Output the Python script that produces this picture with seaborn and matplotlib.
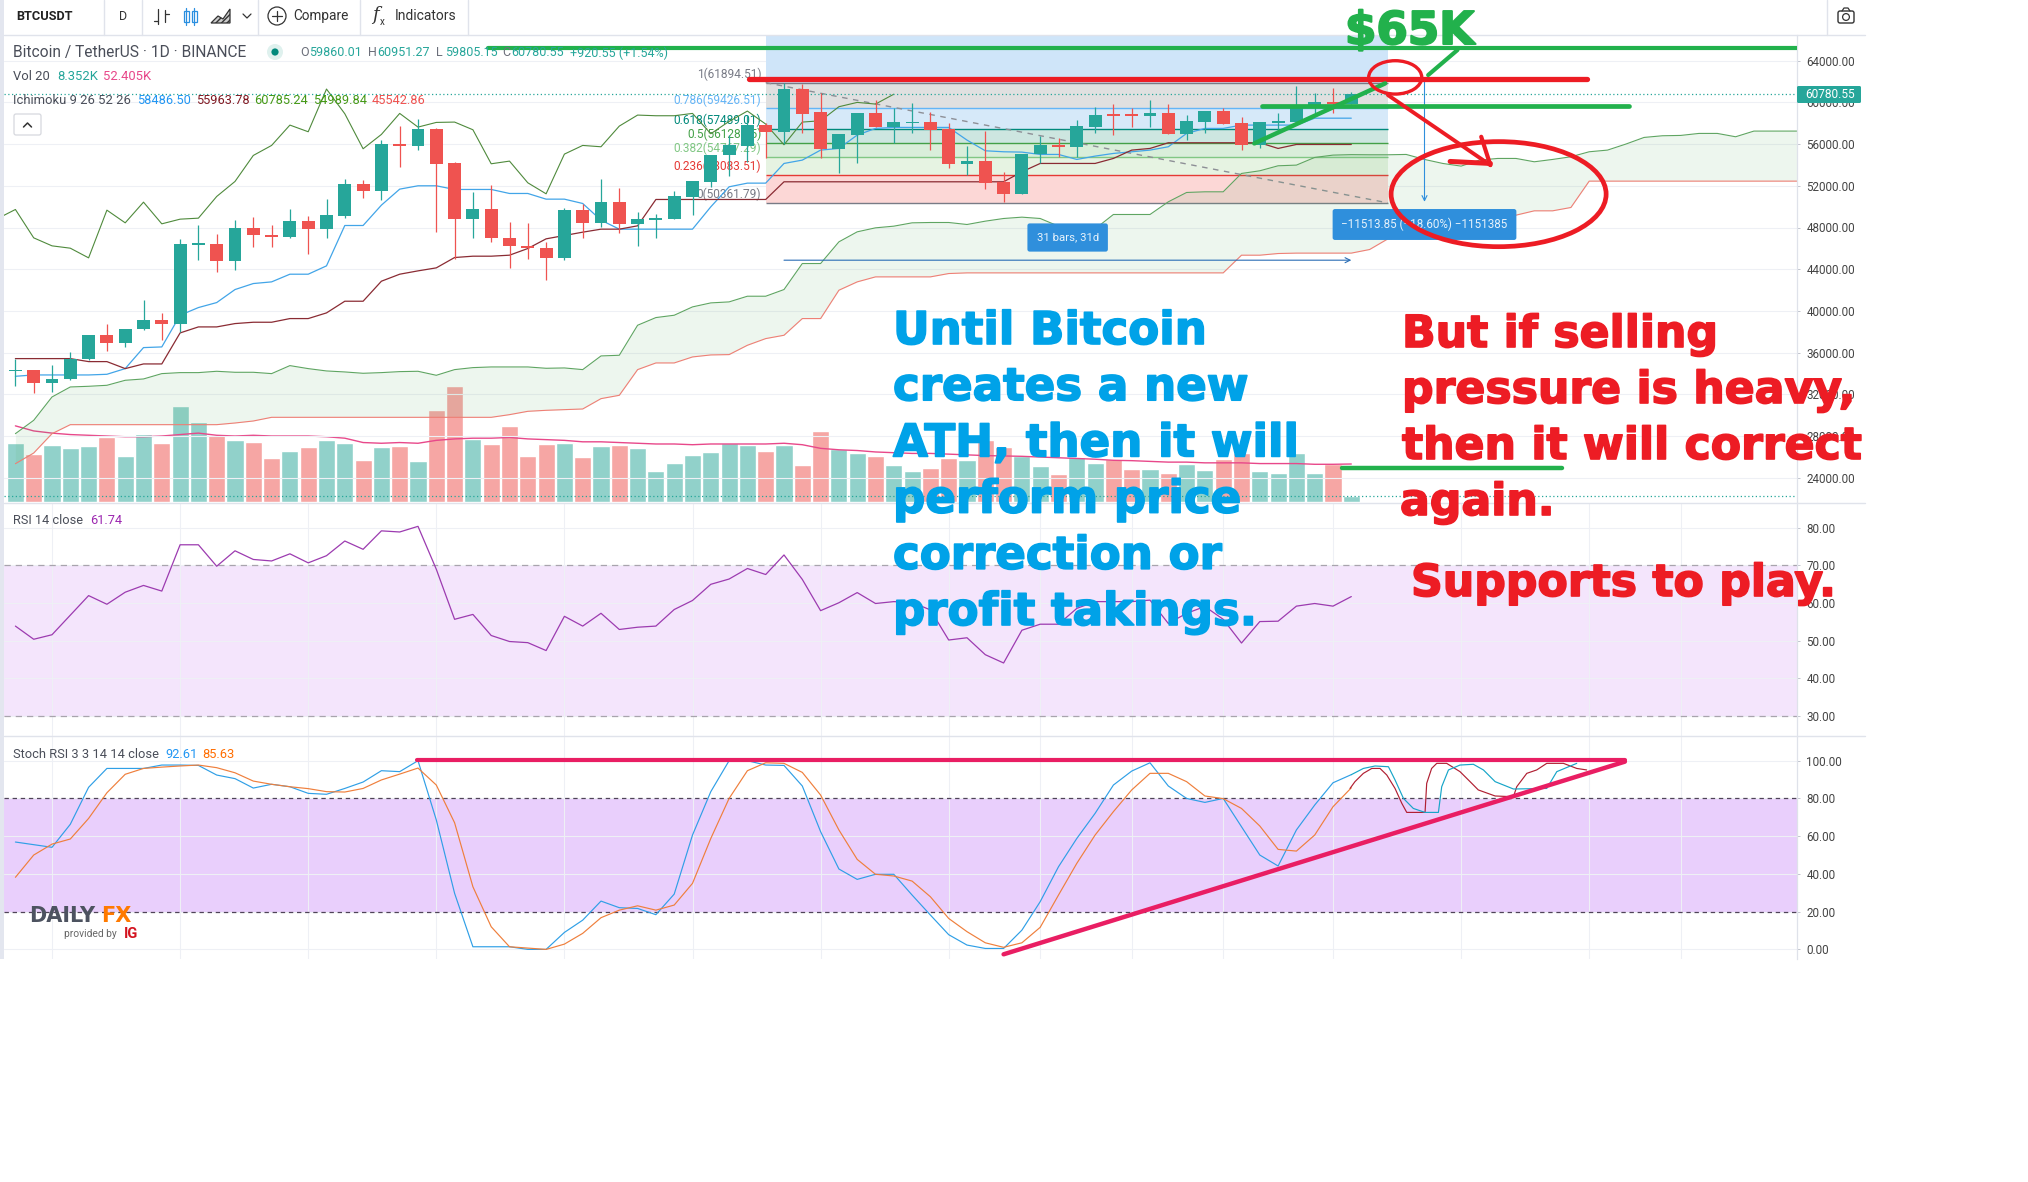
import numpy as np
import matplotlib
matplotlib.use('Agg')
import matplotlib.pyplot as plt
import matplotlib.patheffects as pe
from matplotlib.patches import Ellipse, Rectangle, FancyBboxPatch, Circle
import seaborn as sns

# ---------------- candles ----------------
opens = [34208, 34304, 33088, 33472, 35424, 37664, 36928, 38240, 39168, 38784, 46336, 46464, 44800, 48000, 47328,
         47072, 48576, 47872, 49088, 52160, 51520, 55968, 55840, 57408, 54144, 48832, 49728, 47040, 46272, 46080,
         45056, 49664, 48448, 50400, 48352, 48736, 48832, 50944, 52384, 54912, 55840, 57824, 57184, 61280, 59040,
         55552, 56864, 58944, 57632, 57984, 58080, 57472, 54112, 54336, 52352, 51232, 55008, 55936, 55744, 57664,
         58784, 58784, 58720, 58944, 56992, 58144, 59168, 58016, 55936, 57984, 58144, 59584, 60000, 59840]
closes = [34304, 33088, 33504, 35424, 37664, 36928, 38304, 39168, 38720, 46400, 46496, 44800, 48000, 47264, 47104,
          48576, 47872, 49152, 52160, 51520, 55984, 55840, 57408, 54112, 48832, 49728, 47008, 46240, 46016, 45088,
          49664, 48448, 50432, 48352, 48800, 48896, 50976, 52416, 54912, 55872, 57824, 57184, 61280, 58912, 55552,
          56928, 58944, 57632, 58080, 58112, 57376, 54112, 54368, 52288, 51232, 55040, 55872, 55744, 57728, 58784,
          58720, 58720, 58944, 56992, 58176, 59168, 57920, 55936, 58112, 58240, 59584, 60000, 59840, 60768]
highs = [35424, 34368, 34784, 36032, 37664, 38720, 38304, 41024, 39808, 46912, 48192, 47360, 48704, 48960, 48224,
         49728, 49088, 50720, 52640, 52544, 56384, 57728, 58432, 57504, 54272, 51424, 52064, 48544, 48448, 46624,
         49824, 50240, 52608, 51744, 49440, 49280, 51488, 52416, 54944, 56864, 58784, 57984, 61824, 61760, 60864,
         56928, 58944, 60224, 59424, 59904, 59104, 57984, 55840, 57248, 53312, 55040, 56800, 56544, 58304, 59520,
         59840, 59424, 60224, 59840, 58784, 59168, 59424, 58624, 58112, 59008, 61568, 60864, 61344, 60960]
lows = [32800, 32128, 32224, 33344, 35264, 36160, 36544, 38144, 37248, 37984, 44864, 43744, 43968, 46144, 46144,
        47040, 45504, 46976, 48896, 50816, 50624, 53824, 55424, 47584, 45024, 46976, 46624, 44128, 44960, 42944,
        44928, 47040, 48064, 47488, 46208, 47040, 48832, 49184, 51840, 52928, 54304, 54624, 56000, 57024, 54624,
        53248, 54144, 57632, 56064, 57024, 55424, 53664, 53024, 51712, 50432, 51232, 54144, 54720, 54720, 57024,
        56832, 57664, 57664, 56928, 56384, 57024, 57920, 55424, 55616, 57024, 57984, 58944, 58944, 59840]

# ---------------- ichimoku ----------------
conversion = [33728, 33856, 33856, 33856, 33856, 33920, 34464, 36480, 36544, 39584, 40320, 40800, 42048, 42624, 42784,
              43520, 43520, 44320, 48192, 48192, 50144, 51680, 52000, 52000, 51648, 51648, 51648, 51264, 51264, 50720,
              50720, 50304, 48704, 47840, 47840, 47840, 47840, 47840, 49984, 51904, 52256, 52256, 54144, 54464, 55424,
              55584, 56864, 57504, 57600, 57600, 57600, 57600, 56384, 55360, 55264, 55232, 55008, 55008, 54528, 54848,
              55104, 55264, 55424, 55744, 57024, 57504, 57504, 57824, 57824, 57824, 57824, 58486, 58486, 58486]
base_line = [35424, 35424, 35424, 35424, 35136, 35136, 34464, 34912, 34912, 37888, 38464, 38464, 38784, 38912, 38912,
             39264, 39264, 39808, 40928, 40928, 42848, 43520, 43840, 44128, 45120, 45248, 45248, 45344, 45984, 46912,
             47232, 47552, 47840, 47840, 48160, 50688, 50688, 50688, 50688, 50688, 50688, 50688, 52384, 52384, 52384,
             52384, 52384, 52384, 52384, 52384, 52384, 52384, 52384, 52384, 52384, 53344, 54144, 54144, 54144, 54144,
             54624, 55424, 55584, 56128, 56128, 56128, 56128, 56128, 56128, 55584, 55964, 55964, 55964, 55964]
# starts one bar left of the first candle
lagging = [48832, 49728, 47008, 46240, 46016, 45088, 49664, 48448, 50432, 48352, 48800, 48896, 50976, 52416, 54912,
           55872, 57824, 57184, 61280, 58912, 55552, 56928, 58944, 57632, 58080, 58112, 57376, 54112, 54368, 52288,
           51232, 55040, 55872, 55744, 57728, 58784, 58720, 58720, 58944, 56992, 58176, 59168, 57920, 55936, 58112,
           58240, 59584, 60000, 59840, 60785]
lead_a = [28224, 29504, 31744, 32704, 32768, 32864, 33344, 33472, 33984, 34080, 34080, 34208, 34112, 34112, 33984,
          34752, 34464, 34240, 34144, 34016, 34080, 34176, 34208, 33824, 34368, 34560, 34624, 34624, 34624, 34496,
          34528, 34368, 35680, 35744, 38624, 39360, 39584, 40384, 40768, 40864, 41408, 41408, 42048, 44544, 44544,
          46624, 47584, 47968, 48128, 48448, 48480, 48480, 48288, 48608, 48864, 48992, 48864, 48128, 47872, 47872,
          49248, 49248, 49248, 50464, 51360, 51424, 51424, 53184, 53440, 53920, 53984, 54720, 54944, 54990, 54976,
          54976, 55008, 54528, 54144, 53888, 54464, 54624, 54624, 54304, 54528, 54784, 55264, 55424, 56000, 56640,
          56800, 56832, 57024, 57024, 56704, 57248, 57248, 57248, 57248]
lead_b = [25344, 26368, 28224, 29088, 29088, 29088, 29088, 29088, 29088, 29088, 29088, 29088, 29248, 29440, 29792,
          29792, 29792, 29792, 29792, 29792, 29792, 29792, 29792, 29792, 29792, 29792, 29792, 30048, 30368, 30464,
          30528, 30592, 31584, 31904, 34368, 35008, 35008, 35584, 35776, 35808, 36704, 37344, 37664, 39264, 39264,
          41984, 42784, 43264, 43264, 43264, 43264, 43584, 43648, 43648, 43648, 43648, 43648, 43648, 43648, 43648,
          43648, 43648, 43648, 43648, 43648, 43648, 43648, 45344, 45344, 45504, 45543, 45543, 45543, 45543, 45888,
          46912, 47040, 47104, 47168, 47744, 48320, 48864, 49184, 49600, 49600, 49920, 52448, 52448, 52448, 52448,
          52448, 52448, 52448, 52448, 52448, 52448, 52448, 52448, 52448]

# ---------------- volume (thousands) ----------------
volumes = [81, 66, 79, 75, 77, 89, 64, 94, 81, 133, 110, 93, 86, 83, 61, 70, 76, 86, 81, 58, 76, 77, 57, 127, 160, 87,
           80, 105, 64, 80, 81, 62, 77, 79, 75, 43, 54, 65, 69, 81, 79, 70, 79, 51, 98, 73, 68, 64, 51, 43, 47, 61,
           58, 85, 76, 63, 49, 39, 62, 54, 59, 46, 46, 40, 53, 44, 59, 68, 43, 40, 67, 40, 52, 8.352]
volume_ma = [105, 98, 95, 93, 92, 91, 90, 90, 91, 93, 95, 92, 91, 92, 91, 91, 91, 90, 88, 82, 81, 82, 81, 85, 87, 88,
             88, 89, 87, 86, 85, 83, 83, 82, 81, 80, 80, 79, 80, 80, 80, 80, 81, 79, 74, 72, 71, 69, 68, 67, 67, 66,
             65, 64, 63.5, 63, 62, 61, 60, 59, 57.5, 57, 56, 55, 55, 54, 54, 54, 53, 53, 53, 52, 52, 52.4]

# ---------------- RSI / Stoch RSI ----------------
rsi = [53.9, 50.4, 51.6, 56.8, 62, 59.7, 62.9, 64.7, 63.2, 75.5, 75.5, 69.8, 73.9, 71.6, 71.2, 73.1, 70.7, 72.6, 76.5,
       74.3, 79.2, 78.9, 80.4, 69, 55.7, 57, 51.4, 49.8, 49.5, 47.4, 56.5, 53.9, 57.3, 53, 53.6, 53.9, 58.3, 60.7, 65,
       66.4, 69.2, 67.6, 72.8, 66.3, 58, 60.1, 62.8, 59.9, 60.4, 60.2, 58.2, 50.2, 50.8, 46.3, 44.1, 52.8, 54.4, 54.4,
       58.6, 60.4, 60.4, 60.4, 60.8, 54.6, 57.3, 59.1, 55.7, 49.4, 55.1, 55.2, 59.2, 59.9, 59.2, 61.74]
stoch_k = [56.9, 55.5, 54.1, 66.3, 85.9, 95.9, 95.9, 95.9, 97.7, 97.7, 97.5, 92.4, 90.5, 85.5, 87.5, 86.2, 82.7, 82.2,
           85.3, 88.7, 94.7, 94.2, 100, 68.6, 29.7, 1.4, 1.4, 1.4, 0, 0, 9, 15.5, 25.6, 22.1, 21.7, 18.4, 29.3, 60.6,
           83.6, 100, 100, 97.7, 97.5, 86.6, 62.4, 42.6, 37.1, 39.8, 39.8, 28.8, 18.2, 7.8, 2.3, 0.5, 0.5, 10.2, 25.3,
           43.8, 58.8, 72.1, 87.1, 94.5, 98.9, 86.6, 80, 77.9, 80, 65, 50, 44.2, 63.3, 76.5, 88.3, 92.61]
stoch_d = [38.2, 50, 55.8, 58.5, 69.4, 83, 92.8, 95.9, 96.6, 97.2, 97.7, 96.3, 93.6, 89.2, 87.5, 86.2, 85.2, 83.6, 83.4,
           85.3, 89.8, 92.9, 96.1, 87.1, 67.1, 33.2, 12, 1.4, 0.7, 0, 2.8, 8.5, 16.8, 20.8, 23.1, 20.8, 23.5, 35, 58.8,
           80, 94.7, 98.9, 98.6, 93.8, 81.8, 63.3, 47.7, 39.8, 38.9, 36.2, 27.9, 16.4, 9.4, 3.5, 1.1, 3.5, 11.7, 28.8,
           45.6, 60.6, 73, 84.5, 93.3, 93.3, 88.9, 81.3, 79.9, 74.7, 65.4, 53, 52.1, 60.6, 75.6, 85.63]

# ---------------- fib tool ----------------
fib_ratios = ['1', '0.786', '0.618', '0.5', '0.382', '0.236', '0']
fib_prices = [61894.51, 59426.51, 57489.01, 56128.15, 54767.29, 53083.51, 50361.79]
fib_lines = ['#787b86', '#64b5f6', '#00897b', '#43a047', '#81c784', '#e53935', '#787b86']
fib_fills = ['#e0e0e0', '#d6e9f9', '#cde6e0', '#d9eeda', '#e6f3e2', '#fcd7d6']
price_ticks = [64000, 60000, 56000, 52000, 48000, 44000, 40000, 36000, 32000, 28000, 24000]
rsi_ticks = [80, 70, 60, 50, 40, 30]
stoch_ticks = [100, 80, 60, 40, 20, 0]
time_grid = [2, 9, 16, 23, 30, 37, 44, 51, 56, 61, 66, 72, 79, 86, 91]

# ---------------- hand drawn lines ----------------
path_red_x = [72.93, 73.2, 73.66, 74.12, 74.57, 74.94, 75.39, 75.76, 76.03, 77.03, 77.12, 77.39, 77.67, 78.21, 78.94,
              79.49, 79.94, 80.86, 81.86, 82.04, 82.59, 83.13, 83.68, 84.59, 85.32, 85.86]
path_red_y = [85.3, 88.9, 93.3, 95.9, 95.9, 92.4, 85.3, 77.4, 72.6, 72.6, 88, 95.9, 98.6, 98.6, 94.2, 88.9, 84.5, 81.3,
              80.9, 86.2, 93.3, 95.1, 98.6, 98.6, 95.9, 95.1]
path_cyan_x = [73, 73.66, 74.3, 75.03, 75.39, 75.85, 76.39, 77.03, 77.76, 77.94, 78.31, 78.94, 79.67, 80.22, 80.86,
               81.86, 83.68, 84.23, 85.32]
path_cyan_y = [92.6, 95.9, 97.2, 96.8, 89.8, 80, 74.7, 72.6, 72.6, 86.2, 95.1, 97.7, 98.1, 95.1, 88.9, 85, 85.3, 94.2,
               98.6]

bar_idx = np.arange(len(closes))
GREEN, RED = '#26a69a', '#ef5350'
PAINT_GREEN, PAINT_RED, PAINT_BLUE, PINK = '#22b14c', '#ed1c24', '#00a2e8', '#e91e63'
W, H = 2028, 1182
BAR_X0, BAR_STEP = 15.4, 18.3


def price_at(y):
    return 64000 - (y - 60.7) / 0.010425


def make_pane(top, bottom, left=4, right=1797):
    return fig.add_axes([left / W, 1 - bottom / H, (right - left) / W, (bottom - top) / H])


def style_pane(pane, ticks, fmt='{:.2f}'):
    pane.set_xlim((4 - BAR_X0) / BAR_STEP, (1797 - BAR_X0) / BAR_STEP)
    pane.set_xticks(time_grid)
    pane.set_xticklabels([])
    pane.tick_params(axis='x', length=0)
    pane.yaxis.tick_right()
    pane.set_yticks(ticks)
    pane.set_yticklabels([fmt.format(t) for t in ticks], fontsize=8.4, color='#444444')
    pane.tick_params(axis='y', length=2.5, width=0.6, color='#b8bcc6', pad=4.2)
    pane.grid(True, color='#eef0f5', linewidth=0.8)
    pane.set_axisbelow(True)
    for side in ['top', 'left', 'bottom']:
        pane.spines[side].set_visible(False)
    pane.spines['right'].set_color('#dfe2ea')
    pane.spines['right'].set_linewidth(0.9)


def line(pane, xs, ys, color, lw=0.8, z=4):
    sns.lineplot(x=xs, y=ys, color=color, linewidth=lw, estimator=None, sort=False, ax=pane, zorder=z)


sns.set_theme(style='white')
plt.rcParams['font.family'] = ['Roboto', 'DejaVu Sans']
fig = plt.figure(figsize=(W / 100, H / 100), dpi=100, facecolor='white')

# ---------------- price pane + volume ----------------
vol_ax = make_pane(35, 502)
ax = vol_ax.twinx()
vol_ax.set_zorder(1)
ax.set_zorder(2)
ax.patch.set_visible(False)

vol_dir = ['up' if c >= o else 'down' for o, c in zip(opens, closes)]
sns.barplot(x=bar_idx, y=volumes, hue=vol_dir, palette={'up': '#91d1ca', 'down': '#f6a6a4'}, native_scale=True,
            dodge=False, width=0.93, saturation=1, errorbar=None, legend=False, ax=vol_ax)
line(vol_ax, bar_idx, volume_ma, '#e8488a', 1.0)
vol_ax.axhline(volumes[-1], color=GREEN, linewidth=0.9, linestyle=(0, (1, 2)))
vol_ax.set_ylim(0, 644)
vol_ax.set_yticks([])
vol_ax.set_xlim((4 - BAR_X0) / BAR_STEP, (1797 - BAR_X0) / BAR_STEP)
vol_ax.set_xticks(time_grid)
vol_ax.set_xticklabels([])
vol_ax.tick_params(axis='x', length=0)
vol_ax.set_xlabel('')
for s in vol_ax.spines.values():
    s.set_visible(False)

style_pane(ax, price_ticks)
ax.set_ylim(price_at(502), price_at(35))

# fib retracement block
FIB_X = [41, 75]
ax.fill_between(FIB_X, fib_prices[0], price_at(35), color='#cfe5f9', linewidth=0, zorder=1)
for k in range(6):
    ax.fill_between(FIB_X, fib_prices[k + 1], fib_prices[k], color=fib_fills[k], linewidth=0, zorder=1)
for r, p, c in zip(fib_ratios, fib_prices, fib_lines):
    ax.hlines(p, FIB_X[0], FIB_X[1], color=c, linewidth=1.0, zorder=1.5)
    ax.text(40.75, p + 800, f'{r}({p:.2f})', color=c, fontsize=8.6, ha='right', va='center', zorder=1.6)
line(ax, FIB_X, [fib_prices[0], fib_prices[-1]], '#8d8f96', 1.0, z=1.7)
ax.lines[-1].set_linestyle((0, (4, 4)))

# cloud
lead_idx = np.arange(len(lead_a))
ax.fill_between(lead_idx, lead_a, lead_b, color='#5fae6a', alpha=0.11, linewidth=0, zorder=2)
line(ax, lead_idx, lead_a, '#5fa562', 0.8, z=2.2)
line(ax, lead_idx, lead_b, '#ef7f75', 0.8, z=2.2)
line(ax, bar_idx, conversion, '#42a5e8', 0.9, z=2.4)
line(ax, bar_idx, base_line, '#8a2b33', 0.9, z=2.4)
line(ax, np.arange(-1, len(lagging) - 1), lagging, '#4f8a3c', 0.8, z=2.4)

# candles
up = np.array(closes) >= np.array(opens)
candle_colors = [GREEN if u else RED for u in up]
ax.vlines(bar_idx, lows, highs, colors=candle_colors, linewidth=0.9, zorder=3)
body = np.maximum(np.abs(np.array(closes) - np.array(opens)), 130)
ax.bar(bar_idx, body, bottom=np.minimum(opens, closes), width=0.71, color=candle_colors, linewidth=0, zorder=3.2)

ax.axhline(closes[-1], color=GREEN, linewidth=0.9, linestyle=(0, (1, 2)), zorder=2.6)

# measure tool
ax.annotate('', xy=(77, 50464), xytext=(77, 62208), zorder=4,
            arrowprops=dict(arrowstyle='->', color='#2f8fdc', lw=0.8, shrinkA=0, shrinkB=0, mutation_scale=9))
ax.annotate('', xy=(73, 44864), xytext=(42, 44864), zorder=4,
            arrowprops=dict(arrowstyle='->', color='#2a6db5', lw=0.8, shrinkA=0, shrinkB=0, mutation_scale=9))
ax.text(57.5, 47040, '31 bars, 31d', color='#e6f2fb', fontsize=8.2, ha='center', va='center', zorder=4.1,
        bbox=dict(boxstyle='round,pad=0.8,rounding_size=0.2', fc='#2f8fdc', ec='none'))
ax.text(77, 48288, '\u221211513.85 (\u221218.60%) \u22121151385', color='#e6f2fb', fontsize=8.4, ha='center', va='center',
        zorder=4.1, bbox=dict(boxstyle='round,pad=0.75,rounding_size=0.2', fc='#2f8fdc', ec='none'))

# hand drawn lines on price pane
line(ax, [25.8, 97.5], [65184, 65184], PAINT_GREEN, 3.0, z=6)
line(ax, [40.1, 85.9], [62208, 62208], PAINT_RED, 3.8, z=6)
line(ax, [68.1, 88.2], [59616, 59616], PAINT_GREEN, 3.4, z=6)
line(ax, [67.7, 74.85], [56064, 61824], PAINT_GREEN, 3.2, z=6)
line(ax, [77.2, 78.8], [62624, 65024], PAINT_GREEN, 3.0, z=6)
line(ax, [75, 80.6], [60704, 53984], PAINT_RED, 2.8, z=6)
line(ax, [80.1, 80.6], [56704, 53984], PAINT_RED, 3.0, z=6)
line(ax, [78.4, 80.6], [54336, 54144], PAINT_RED, 3.6, z=6)
line(ax, [72.5, 84.5], [24960, 24960], PAINT_GREEN, 3.2, z=6)
ax.add_patch(Ellipse((75.4, 62400), 2.9, 3200, fill=False, ec=PAINT_RED, lw=2.4, zorder=6))
ax.add_patch(Ellipse((81.05, 51200), 11.75, 10080, fill=False, ec=PAINT_RED, lw=3.4, zorder=6))

# ---------------- RSI ----------------
rsi_ax = make_pane(503, 736)
style_pane(rsi_ax, rsi_ticks)
rsi_ax.set_ylim(24.7, 86.6)
rsi_ax.axhspan(30, 70, color='#f4e5fc', linewidth=0, zorder=0.5)
for lvl in [30, 70]:
    rsi_ax.axhline(lvl, color='#a8a4ad', linewidth=0.9, linestyle=(0, (5, 4)), zorder=1)
line(rsi_ax, bar_idx, rsi, '#9c3bb0', 0.9)

# ---------------- Stoch RSI ----------------
st_ax = make_pane(737, 959)
style_pane(st_ax, stoch_ticks)
st_ax.set_ylim(100 - (959 - 760.7) / 1.887, 100 + (760.7 - 737) / 1.887)
st_ax.axhspan(20, 80, color='#e9cffc', linewidth=0, zorder=0.5)
for lvl in [20, 80]:
    st_ax.axhline(lvl, color='#4f4358', linewidth=0.9, linestyle=(0, (3.5, 3)), zorder=1)
line(st_ax, bar_idx, stoch_k, '#2f9fe6', 0.85)
line(st_ax, bar_idx, stoch_d, '#ef7f3c', 0.85)
line(st_ax, path_red_x, path_red_y, '#b01f32', 0.85, z=5)
line(st_ax, path_cyan_x, path_cyan_y, '#16a5c8', 0.85, z=5)
line(st_ax, [21.95, 87.95], [100.3, 100.3], PINK, 3.0, z=6)
line(st_ax, [54.0, 87.95], [-2.6, 99.5], PINK, 3.2, z=6)

# ---------------- overlay: toolbar, legends, painted text ----------------
top = fig.add_axes([0, 0, 1, 1], zorder=10)
top.set_xlim(0, W)
top.set_ylim(H, 0)
top.axis('off')
top.patch.set_visible(False)


def t(x, y, s, color='#4a4e59', size=9.2, weight='normal', **kw):
    return top.text(x, y, s, color=color, fontsize=size, fontweight=weight, va=kw.pop('va', 'center'), **kw)


SEP = '#e0e3eb'
top.add_patch(Rectangle((0, 0), 4, 959, color='#e3e6ef', lw=0))
for yy in [35, 503, 736]:
    top.plot([4, 1865], [yy, yy], color=SEP, lw=1.0)
for xx in [104, 142, 258, 360, 468, 1827]:
    top.plot([xx, xx], [0, 35], color=SEP, lw=1.0)

t(16, 16, 'BTCUSDT', '#222222', 9.2, 'bold')
t(119, 16, 'D', '#333333', 9)
# chart type icons
for xx, y0, y1 in [(158, 9, 24), (165, 10, 22)]:
    top.plot([xx, xx], [y0, y1], color='#333333', lw=0.9)
top.plot([154, 158], [21, 21], color='#333333', lw=0.9)
top.plot([165, 169], [14, 14], color='#333333', lw=0.9)
for xx in [186, 194]:
    top.plot([xx, xx], [8, 25], color='#2a8fe0', lw=0.9)
    top.add_patch(Rectangle((xx - 2.5, 11), 5, 11, fc='white', ec='#2a8fe0', lw=0.9))
top.fill([211, 218, 223, 230, 230, 211], [23, 16, 19, 9, 23, 23], facecolor='#cccccc', edgecolor='#333333', lw=0.9,
         hatch='//////')
top.plot([243, 247, 251], [14, 18, 14], color='#333333', lw=0.9)
top.add_patch(Circle((277, 16), 9, fill=False, ec='#333333', lw=0.9))
top.plot([277, 277], [11, 21], color='#333333', lw=0.9)
top.plot([272, 282], [16, 16], color='#333333', lw=0.9)
t(293, 16, 'Compare', '#333333', 9.8)
t(372, 15, 'f', '#333333', 13, style='italic', family='DejaVu Serif')
t(380, 22, 'x', '#333333', 7)
t(395, 16, 'Indicators', '#333333', 10)
# camera
top.add_patch(FancyBboxPatch((1838, 11), 16, 12, boxstyle='round,pad=0,rounding_size=2', fc='none', ec='#333333', lw=1))
top.add_patch(Circle((1846, 17), 3.4, fill=False, ec='#333333', lw=0.9))
top.plot([1842, 1844, 1848, 1850], [11, 8, 8, 11], color='#333333', lw=0.9)

t(13, 53, 'Bitcoin / TetherUS \u00b7 1D \u00b7 BINANCE', '#4a4e59', 11.2)
top.add_patch(Circle((275, 52), 8, color='#dff1ee', lw=0))
top.add_patch(Circle((275, 52), 3.6, color='#00897b', lw=0))
for xx, lab, val in [(300, 'O', '59860.01'), (368, 'H', '60951.27'), (436, 'L', '59805.15'), (502, 'C', '60780.55')]:
    t(xx, 53, lab, '#6b6f7a', 9)
    t(xx + 9, 53, val, GREEN, 9)
t(570, 53, '+920.55 (+1.54%)', GREEN, 9)

t(13, 77, 'Vol 20', '#4a4e59', 9.4)
t(57, 77, '8.352K', GREEN, 9.4)
t(103, 77, '52.405K', '#e8488a', 9.4)

t(13, 100, 'Ichimoku 9 26 52 26', '#4a4e59', 9.4)
for xx, val, c in [(137, '58486.50', '#2196f3'), (196, '55963.78', '#801922'), (254, '60785.24', '#459915'),
                   (313, '54989.84', '#459915'), (372, '45542.86', '#ef5350')]:
    t(xx, 100, val, c, 9.2)
top.add_patch(FancyBboxPatch((14, 114), 27, 21, boxstyle='round,pad=0,rounding_size=2', fc='white', ec='#d6d8de', lw=0.9))
top.plot([23.5, 27.5, 31.5], [127, 123, 127], color='#333333', lw=1.1)

t(13, 520, 'RSI 14 close', '#4a4e59', 9.2)
t(90, 520, '61.74', '#9c27b0', 9.2)
t(13, 754, 'Stoch RSI 3 3 14 14 close', '#4a4e59', 9.3)
t(165, 754, '92.61', '#2196f3', 9.3)
t(202, 754, '85.63', '#ff6d00', 9.3)

# price badge
top.add_patch(FancyBboxPatch((1797, 86), 64, 17, boxstyle='round,pad=0,rounding_size=1.5', fc=GREEN, ec='none'))
t(1805, 94.5, '60780.55', 'white', 8.6)

# logo
t(29, 916, 'DAILY', '#4d5360', 15, 'bold', family='DejaVu Sans')
t(101, 916, 'FX', '#ff7a00', 15, 'bold', family='DejaVu Sans')
t(64, 934, 'provided by', '#666666', 7.4)
t(124, 934, 'IG', '#d3131f', 10.5, 'bold')

# painted captions
blue_lines = ['Until Bitcoin', 'creates a new', 'ATH, then it will', 'perform price', 'correction or', 'profit takings.']
for k, s in enumerate(blue_lines):
    txt = t(893, 344 + k * 56.2, s, PAINT_BLUE, 32.5, 'bold', family='DejaVu Sans', va='baseline')
    txt.set_path_effects([pe.withStroke(linewidth=1.2, foreground=PAINT_BLUE)])
red_lines = [(1402, 347, 'But if selling'), (1402, 403, 'pressure is heavy,'), (1402, 459, 'then it will correct'),
             (1400, 515, 'again.'), (1411, 596, 'Supports to play.')]
for xx, yy, s in red_lines:
    txt = t(xx, yy, s, PAINT_RED, 31.8, 'bold', family='DejaVu Sans', va='baseline')
    txt.set_path_effects([pe.withStroke(linewidth=1.2, foreground=PAINT_RED)])
txt = t(1345, 44, '$65K', PAINT_GREEN, 32.5, 'bold', family='DejaVu Sans', va='baseline')
txt.set_path_effects([pe.withStroke(linewidth=1.5, foreground=PAINT_GREEN)])

fig.savefig('out.png', dpi=100, facecolor='white')
